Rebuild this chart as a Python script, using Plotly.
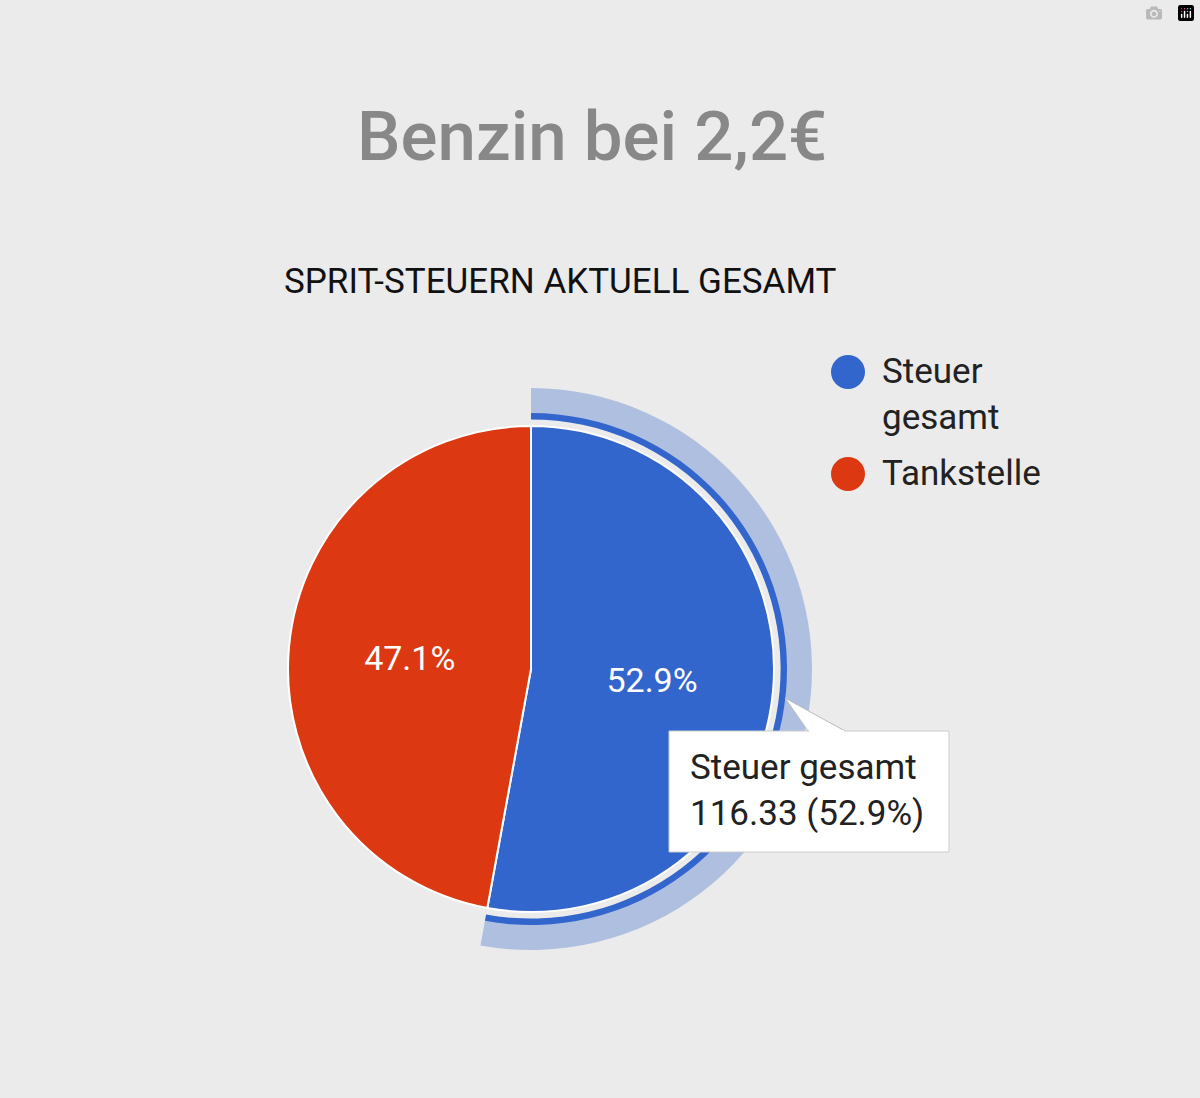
import plotly.graph_objects as go

labels = ["Steuer gesamt", "Tankstelle"]
values = [116.33, 103.67]
colors = ["#3366cc", "#dc3912"]
title = "Benzin bei 2,2€"
subtitle = "SPRIT-STEUERN AKTUELL GESAMT"

W, H = 1200, 1098
cx, cy = 531, 669
def px(x): return x / W
def py(y): return 1 - y / H
def dom(r):
    return dict(x=[px(cx - r), px(cx + r)], y=[py(cy + r), py(cy - r)])

total = sum(values)
fig = go.Figure()
fig.add_trace(go.Pie(values=values, labels=labels, sort=False, direction="clockwise", rotation=0,
                     domain=dom(281), hole=0.89, textinfo="none", hoverinfo="skip", showlegend=False,
                     marker=dict(colors=["rgba(51,102,204,0.33)", "rgba(0,0,0,0)"], line=dict(width=0))))
fig.add_trace(go.Pie(values=values, labels=labels, sort=False, direction="clockwise", rotation=0,
                     domain=dom(256), hole=0.975, textinfo="none", hoverinfo="skip", showlegend=False,
                     marker=dict(colors=["#3366cc", "rgba(0,0,0,0)"], line=dict(width=0))))
fig.add_trace(go.Pie(values=values, labels=labels, sort=False, direction="clockwise", rotation=0,
                     domain=dom(243), texttemplate="%{percent:.1%}", textposition="inside",
                     insidetextfont=dict(color="white", size=34, family="Roboto"),
                     showlegend=False, marker=dict(colors=colors, line=dict(color="white", width=2))))

shapes, ann = [], []
for i, (lab, col) in enumerate(zip(labels, colors)):
    yy = [372, 474][i]
    shapes.append(dict(type="circle", xref="paper", yref="paper", x0=px(831), x1=px(865),
                       y0=py(yy + 17), y1=py(yy - 17), fillcolor=col, line=dict(width=0)))
    txt = lab.replace(" ", "<br>") if i == 0 else lab
    ann.append(dict(x=px(880), y=py(yy - 23), xref="paper", yref="paper", text=txt, showarrow=False,
                    xanchor="left", yanchor="top", align="left",
                    font=dict(size=35, color="#222", family="Roboto")))
shapes.append(dict(type="path", xref="paper", yref="paper",
                   path=f"M {px(808)} {py(731)} L {px(785)} {py(698)} L {px(845)} {py(731)} Z",
                   fillcolor="white", line=dict(color="#bbbbbb", width=1)))
shapes.append(dict(type="rect", xref="paper", yref="paper", x0=px(669), x1=px(949), y0=py(852), y1=py(731),
                   fillcolor="white", line=dict(color="#cccccc", width=1)))
shapes.append(dict(type="line", xref="paper", yref="paper", x0=px(809), x1=px(844), y0=py(731), y1=py(731),
                   line=dict(color="white", width=2)))
ann.append(dict(x=px(688), y=py(745), xref="paper", yref="paper", showarrow=False, xanchor="left",
                yanchor="top", align="left",
                text=f"{labels[0]}<br>{values[0]:.2f} ({values[0]/total:.1%})",
                font=dict(size=35, color="#222", family="Roboto")))
ann.append(dict(x=px(592), y=py(94), xref="paper", yref="paper", showarrow=False, text=title,
                font=dict(size=69, color="#888888", family="Roboto", weight=500)))
ann.append(dict(x=px(282), y=py(259), xref="paper", yref="paper", showarrow=False, xanchor="left",
                text=subtitle, font=dict(size=35, color="#111", family="Roboto")))

fig.update_layout(width=W, height=H, margin=dict(l=0, r=0, t=0, b=0), paper_bgcolor="#ebebeb",
                  plot_bgcolor="#ebebeb", shapes=shapes, annotations=ann)
fig.write_html("out.html", post_script="document.body.style.margin='0';")
